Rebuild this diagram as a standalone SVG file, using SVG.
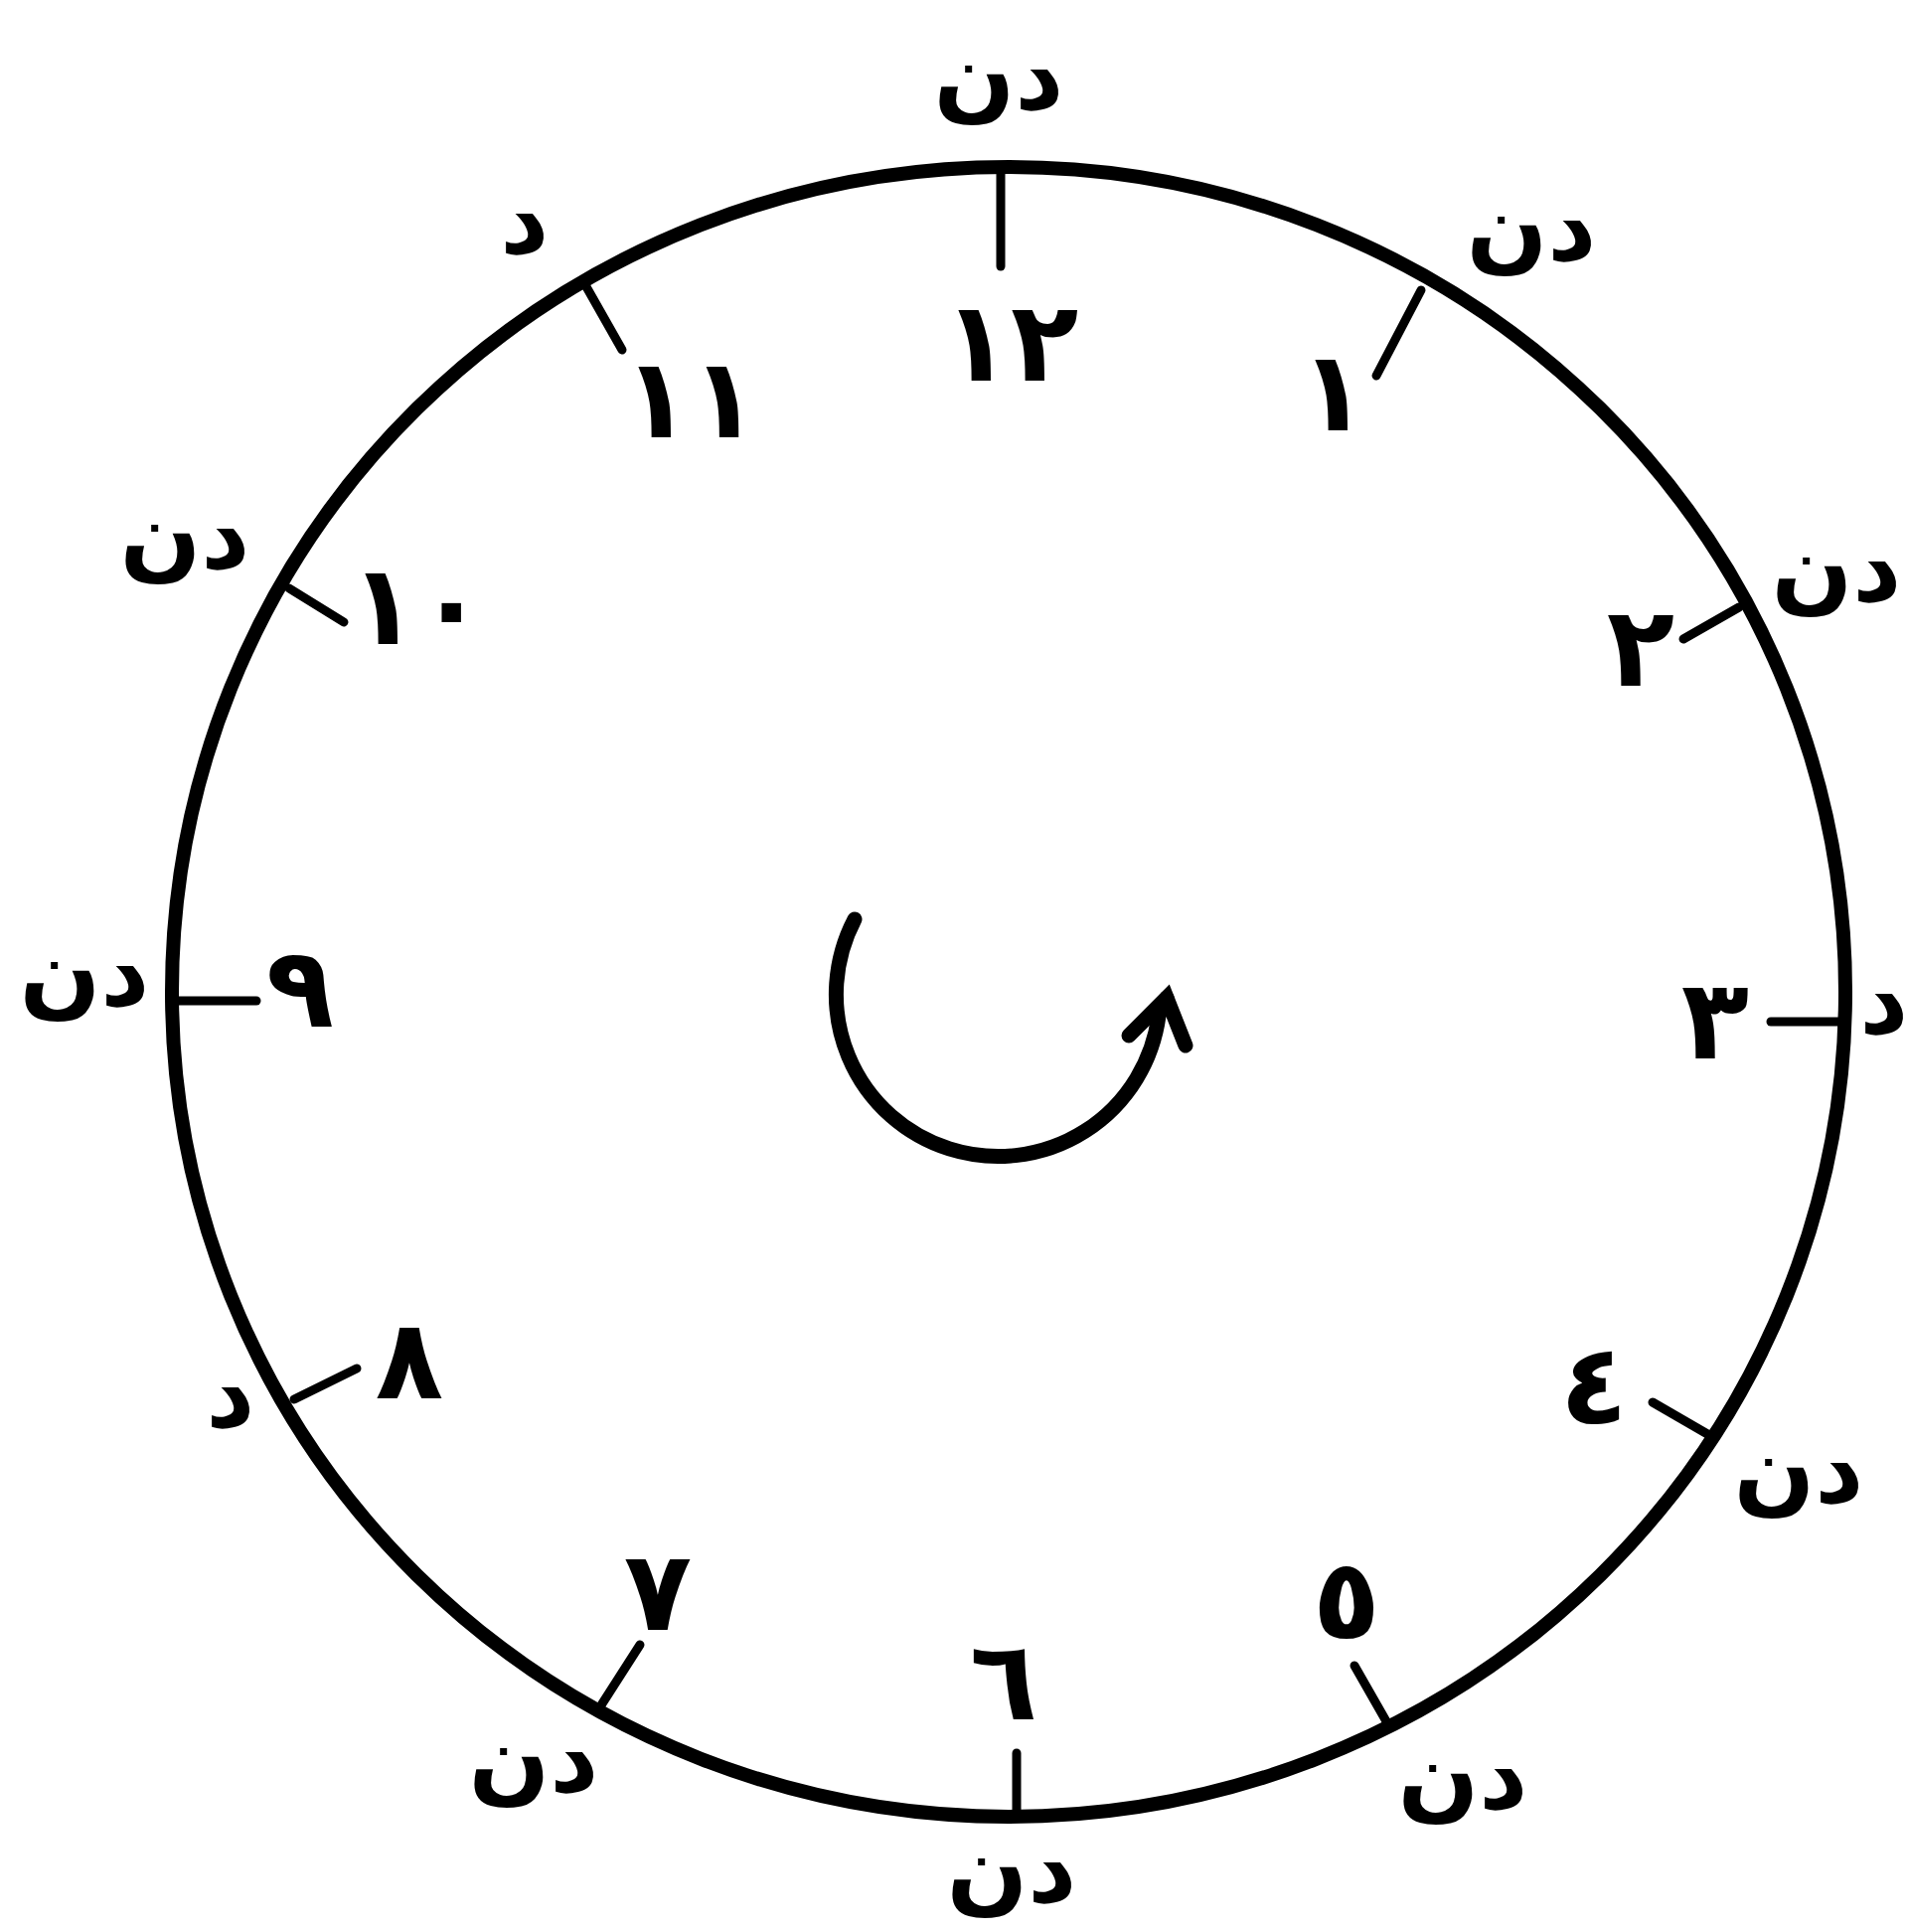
<svg xmlns="http://www.w3.org/2000/svg" width="1918" height="1944" viewBox="0 0 1918 1944">
<style>
.rim{fill:none;stroke:#000;stroke-width:14}
.tick{stroke:#000;stroke-width:9;stroke-linecap:round}
.arr{fill:none;stroke:#000;stroke-width:15;stroke-linecap:round;stroke-linejoin:miter}
text{font-family:"DejaVu Sans","Noto Sans",sans-serif;fill:#000;text-anchor:middle;font-weight:bold}
.lbl{font-size:96px}
.num{font-size:112px}
</style>
<rect width="1918" height="1944" fill="#fff"/>
<g id="dial">
<ellipse class="rim" cx="1015" cy="998" rx="842" ry="830"/>
</g>
<g id="connectors">
<line class="tick" x1="1007" y1="170" x2="1007" y2="268"/>
<line class="tick" x1="1430" y1="292" x2="1385" y2="378"/>
<line class="tick" x1="1750" y1="611" x2="1694" y2="643"/>
<line class="tick" x1="1857" y1="1028" x2="1782" y2="1028"/>
<line class="tick" x1="1720" y1="1444" x2="1663" y2="1411"/>
<line class="tick" x1="1395" y1="1732" x2="1363" y2="1676"/>
<line class="tick" x1="1023" y1="1825" x2="1023" y2="1764"/>
<line class="tick" x1="601" y1="1722" x2="644" y2="1655"/>
<line class="tick" x1="296" y1="1408" x2="359" y2="1377"/>
<line class="tick" x1="173" y1="1007" x2="258" y2="1007"/>
<line class="tick" x1="291" y1="592" x2="346" y2="626"/>
<line class="tick" x1="588" y1="285" x2="626" y2="352"/>
<path class="arr" d="M 860 925 A 163 163 0 1 0 1166 1022 L 1174 1004"/>
<path class="arr" d="M 1136 1042 L 1174 1004 L 1193 1052"/>
</g>
<g id="labels-outer">
<text class="lbl" x="1005" y="110">دن</text>
<text class="lbl" x="1541" y="262">دن</text>
<text class="lbl" x="1848" y="605">دن</text>
<text class="lbl" x="1896" y="1040">د</text>
<text class="lbl" x="1810" y="1512">دن</text>
<text class="lbl" x="1472" y="1820">دن</text>
<text class="lbl" x="1018" y="1914">دن</text>
<text class="lbl" x="537" y="1803">دن</text>
<text class="lbl" x="232" y="1436">د</text>
<text class="lbl" x="85" y="1012">دن</text>
<text class="lbl" x="186" y="572">دن</text>
<text class="lbl" x="528" y="255">د</text>
</g>
<g id="labels-inner">
<text class="num" x="1017" y="383">١٢</text>
<text class="num" x="1342" y="433">١</text>
<text class="num" x="1651" y="690">٢</text>
<text class="num" x="1726" y="1065">٣</text>
<text class="num" x="1604" y="1432">٤</text>
<text class="num" x="1355" y="1648">٥</text>
<text class="num" x="1010" y="1730">٦</text>
<text class="num" x="662" y="1640">٧</text>
<text class="num" x="412" y="1407">٨</text>
<text class="num" x="302" y="1033">٩</text>
<text class="num" x="420" y="648">١٠</text>
<text class="num" x="695" y="440">١١</text>
</g>
</svg>
